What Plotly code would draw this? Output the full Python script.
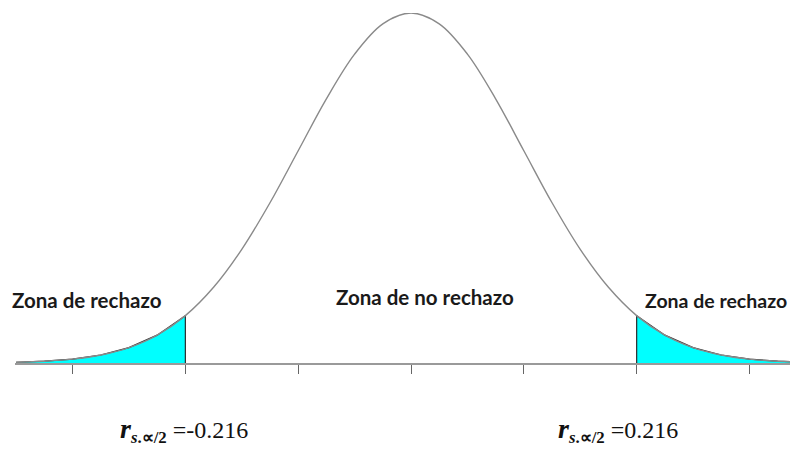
import plotly.graph_objects as go

# Standard normal curve (scaled so the peak is 1)
z_vals = [-3.5, -3.25, -3.0, -2.75, -2.5, -2.25, -2.0, -1.75, -1.5, -1.25, -1.0,
          -0.75, -0.5, -0.25, 0.0, 0.25, 0.5, 0.75, 1.0, 1.25, 1.5, 1.75, 2.0,
          2.25, 2.5, 2.75, 3.0, 3.25, 3.5]
density = [0.0022, 0.0051, 0.0111, 0.0228, 0.0439, 0.0796, 0.1353, 0.2163,
           0.3247, 0.4578, 0.6065, 0.7548, 0.8825, 0.969, 1.0, 0.969, 0.8825,
           0.7548, 0.6065, 0.4578, 0.3247, 0.2163, 0.1353, 0.0796, 0.0439,
           0.0228, 0.0111, 0.0051, 0.0022]
critical = [-2.0, 2.0]
tick_vals = [-3, -2, -1, 0, 1, 2, 3]
zone_labels = ["Zona de rechazo", "Zona de no rechazo", "Zona de rechazo"]
crit_labels = ["=-0.216", "=0.216"]

lo, hi = critical
left_x = [z for z in z_vals if z <= lo]
left_y = [d for z, d in zip(z_vals, density) if z <= lo]
right_x = [z for z in z_vals if z >= hi]
right_y = [d for z, d in zip(z_vals, density) if z >= hi]

fig = go.Figure()

# shaded rejection tails (closing vertical edge at the critical value)
fig.add_trace(go.Scatter(
    x=left_x + [lo], y=left_y + [0], mode="lines", fill="tozeroy",
    fillcolor="#00FFFF", line=dict(color="#2b2b2b", width=1.2),
))
fig.add_trace(go.Scatter(
    x=[hi] + right_x, y=[0] + right_y, mode="lines", fill="tozeroy",
    fillcolor="#00FFFF", line=dict(color="#2b2b2b", width=1.2),
))

# full curve
fig.add_trace(go.Scatter(
    x=z_vals, y=density, mode="lines", line_shape="spline",
    line=dict(color="#8a8a8a", width=1.4),
))

label_font = dict(family="Lato, Open Sans, sans-serif", size=20.5, color="#1a1a1a")
fig.add_annotation(x=-2.87, y=0.18, text=f"<b>{zone_labels[0]}</b>",
                   showarrow=False, font=label_font)
fig.add_annotation(x=0.12, y=0.19, text=f"<b>{zone_labels[1]}</b>",
                   showarrow=False, font=label_font)
# right label hugs the right edge
fig.add_annotation(x=2.06, y=0.18, text=f"<b>{zone_labels[2]}</b>",
                   showarrow=False, xanchor="left",
                   font=dict(label_font, size=19.5))

serif = dict(family="Liberation Serif, Times New Roman, serif", size=24, color="#111")
for xpos, txt in zip([-2.6, 1.285], crit_labels):
    fig.add_annotation(
        x=xpos, y=-0.19, xref="x", yref="paper", yanchor="middle",
        xanchor="left", showarrow=False, font=serif,
        text=(f"<span style='font-size:28px'><b><i>r</i></b></span>"
              f"<sub><b><i>s</i>.∝/2</b></sub> {txt}"),
    )

fig.update_xaxes(
    range=[-3.51, 3.43], tickvals=tick_vals, showticklabels=False,
    ticks="outside", ticklen=9, tickwidth=1, tickcolor="#666",
    showline=True, linecolor="#9a9a9a", linewidth=2,
    showgrid=False, zeroline=False,
)
fig.update_yaxes(range=[0, 1.0], visible=False, showgrid=False, zeroline=False)

# page body has an 8px margin, so size/margins are shifted to compensate
fig.update_layout(
    width=790, height=442, showlegend=False,
    margin=dict(l=7, r=0, t=5, b=87),
    plot_bgcolor="white", paper_bgcolor="white",
)

fig.write_html("out.html")
